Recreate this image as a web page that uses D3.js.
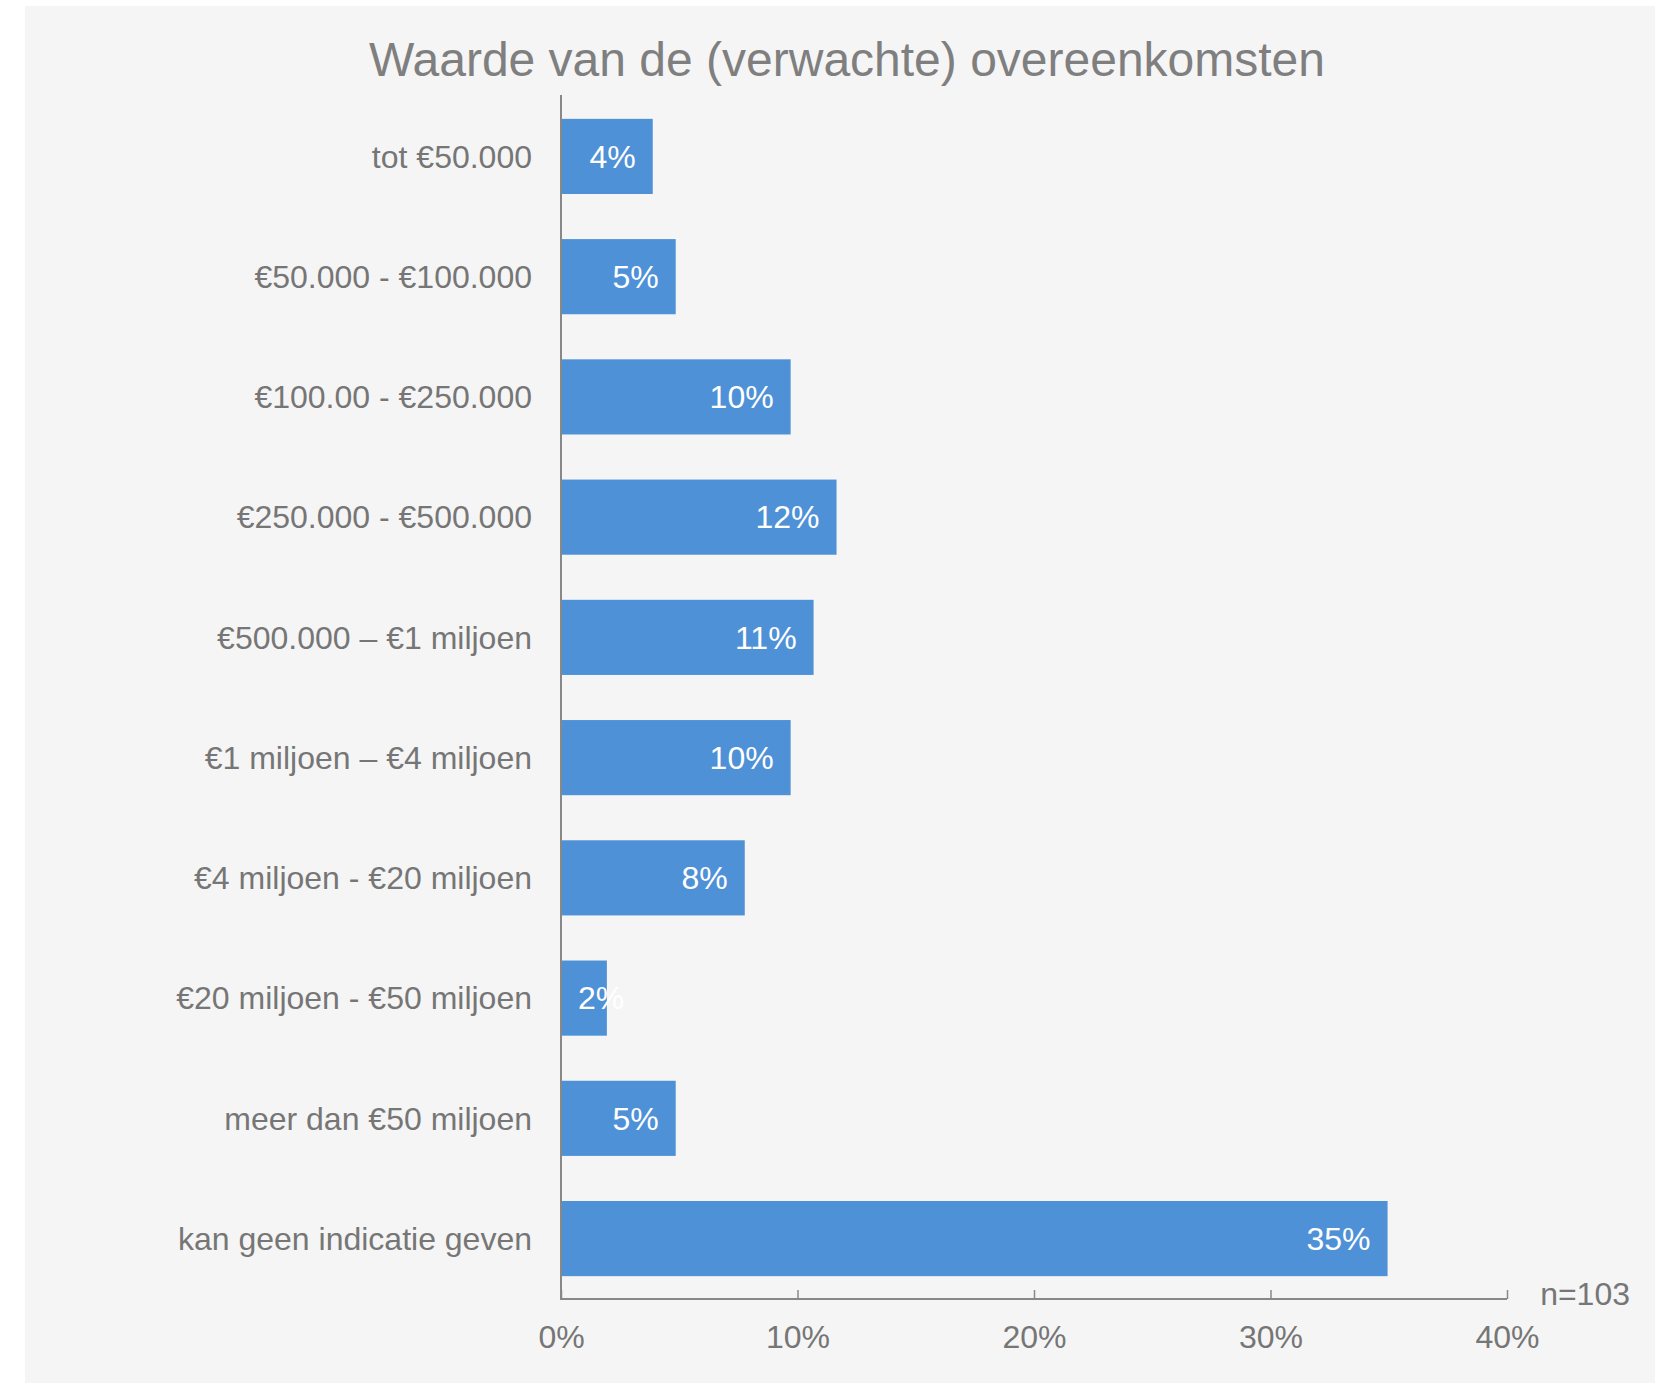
<!DOCTYPE html>
<html>
<head>
<meta charset="utf-8">
<script src="https://cdn.jsdelivr.net/npm/d3@7"></script>
<style>
  body { margin: 0; background: #ffffff; }
  text { font-family: "Liberation Sans", Arial, sans-serif; }
</style>
</head>
<body>
<div id="chart"></div>
<script>
// Data (percent of n=103)
const categories = [
  "tot €50.000",
  "€50.000 - €100.000",
  "€100.00 - €250.000",
  "€250.000 - €500.000",
  "€500.000 – €1 miljoen",
  "€1 miljoen – €4 miljoen",
  "€4 miljoen - €20 miljoen",
  "€20 miljoen - €50 miljoen",
  "meer dan €50 miljoen",
  "kan geen indicatie geven"
];
const values = [3.88, 4.85, 9.71, 11.65, 10.68, 9.71, 7.77, 1.94, 4.85, 34.95];
const xTicks = [0, 10, 20, 30, 40];
const title = "Waarde van de (verwachte) overeenkomsten";
const note = "n=103";

const W = 1655, H = 1383;
const margin = { top: 96, left: 561, right: 148, bottom: 84 };

const svg = d3.select("#chart")
  .append("svg")
  .attr("width", W)
  .attr("height", H);

// Chart area background
svg.append("rect")
  .attr("x", 25).attr("y", 6)
  .attr("width", W - 25).attr("height", H - 6)
  .attr("fill", "#f5f5f5");

const x = d3.scaleLinear()
  .domain([0, 40])
  .range([margin.left, W - margin.right]);

const y = d3.scaleBand()
  .domain(categories)
  .range([margin.top, H - margin.bottom])
  .paddingInner(0.375)
  .paddingOuter(0.19);

const axisY = H - margin.bottom;

svg.append("text")
  .attr("x", 847)
  .attr("y", 76)
  .attr("text-anchor", "middle")
  .attr("font-size", 48)
  .attr("fill", "#7f7f7f")
  .text(title);

// Bars
svg.selectAll("rect.bar")
  .data(values)
  .enter()
  .append("rect")
  .attr("class", "bar")
  .attr("x", x(0))
  .attr("y", (d, i) => y(categories[i]))
  .attr("width", (d) => x(d) - x(0))
  .attr("height", y.bandwidth())
  .attr("fill", "#4f91d7");

// Value labels: inside end, or inside base if it doesn't fit
const pad = 17;
svg.selectAll("text.val")
  .data(values)
  .enter()
  .append("text")
  .attr("class", "val")
  .attr("y", (d, i) => y(categories[i]) + y.bandwidth() / 2)
  .attr("dy", "0.35em")
  .attr("font-size", 32)
  .attr("fill", "#ffffff")
  .text((d) => Math.round(d) + "%")
  .each(function (d) {
    const t = d3.select(this);
    const w = this.getComputedTextLength();
    if (w + 2 * pad > x(d) - x(0)) {
      t.attr("x", x(0) + pad).attr("text-anchor", "start");
    } else {
      t.attr("x", x(d) - pad).attr("text-anchor", "end");
    }
  });

// Category labels
svg.selectAll("text.cat")
  .data(categories)
  .enter()
  .append("text")
  .attr("class", "cat")
  .attr("x", 532)
  .attr("y", (d) => y(d) + y.bandwidth() / 2)
  .attr("dy", "0.35em")
  .attr("text-anchor", "end")
  .attr("font-size", 32)
  .attr("fill", "#767676")
  .text((d) => d);

// X axis with ticks pointing up
const xAxis = svg.append("g")
  .attr("transform", `translate(0,${axisY})`)
  .call(d3.axisBottom(x).tickValues(xTicks).tickSize(-9).tickPadding(0).tickFormat((d) => d + "%"));

xAxis.select(".domain")
  .attr("d", `M${x(0)},0H${x(40)}`)
  .attr("stroke", "#888888")
  .attr("stroke-width", 2);
xAxis.selectAll(".tick line")
  .attr("stroke", "#888888")
  .attr("stroke-width", 1.5);
xAxis.selectAll(".tick text")
  .attr("y", 49)
  .attr("dy", 0)
  .attr("font-size", 32)
  .attr("font-family", "Liberation Sans, Arial, sans-serif")
  .attr("fill", "#767676");

// Y axis line
svg.append("line")
  .attr("x1", x(0)).attr("x2", x(0))
  .attr("y1", 95).attr("y2", axisY + 1)
  .attr("stroke", "#888888")
  .attr("stroke-width", 2);

svg.append("text")
  .attr("x", 1630)
  .attr("y", 1305)
  .attr("text-anchor", "end")
  .attr("font-size", 32)
  .attr("fill", "#767676")
  .text(note);
</script>
</body>
</html>
